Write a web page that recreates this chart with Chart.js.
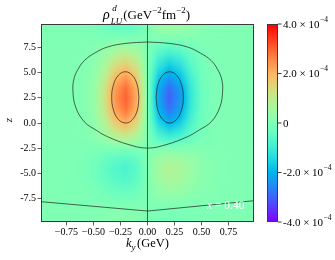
<!DOCTYPE html>
<html>
<head>
<meta charset="utf-8">
<script src="https://cdn.jsdelivr.net/npm/chart.js@4.4.1/dist/chart.umd.min.js"></script>
<style>
  html, body { margin: 0; padding: 0; background: #fff; }
  canvas { display: block; }
</style>
</head>
<body>
<canvas id="chart" width="335" height="260"></canvas>
<script>
// rho_LU^d on a (ky, z) grid, values in units of 1e-4 GeV^-2 fm^-2
const kyGrid = [-1.0, -0.9, -0.8, -0.7, -0.6, -0.5, -0.4, -0.3, -0.2, -0.1, 0.0,
                0.1, 0.2, 0.3, 0.4, 0.5, 0.6, 0.7, 0.8, 0.9, 1.0];
const zGrid = [9.5, 8.5, 7.5, 6.5, 5.5, 4.5, 3.5, 2.5, 1.5, 0.5,
               -0.5, -1.5, -2.5, -3.5, -4.5, -5.5, -6.5, -7.5, -8.5, -9.5];
const rhoGrid = [
  [0, 0, -0.01, -0.02, -0.05, -0.12, -0.26, -0.39, -0.45, -0.32, 0, 0.32, 0.45, 0.39, 0.26, 0.12, 0.05, 0.02, 0.01, 0, 0],
  [0, 0, 0, -0.01, -0.02, -0.03, -0.05, -0.05, -0.05, -0.04, 0, 0.04, 0.05, 0.05, 0.05, 0.03, 0.02, 0.01, 0, 0, 0],
  [0, 0, 0, 0, 0.01, 0.06, 0.21, 0.43, 0.54, 0.39, 0, -0.39, -0.54, -0.43, -0.21, -0.06, -0.01, 0, 0, 0, 0],
  [0, 0, 0, 0, 0.02, 0.13, 0.46, 0.95, 1.19, 0.84, 0, -0.84, -1.19, -0.95, -0.46, -0.13, -0.02, 0, 0, 0, 0],
  [0, 0, 0, 0, 0.04, 0.20, 0.68, 1.42, 1.78, 1.26, 0, -1.26, -1.78, -1.42, -0.68, -0.20, -0.04, 0, 0, 0, 0],
  [0, 0, 0, 0, 0.05, 0.26, 0.91, 1.90, 2.38, 1.68, 0, -1.68, -2.38, -1.90, -0.91, -0.26, -0.05, 0, 0, 0, 0],
  [0, 0, 0, 0, 0.06, 0.32, 1.10, 2.29, 2.87, 2.03, 0, -2.03, -2.87, -2.29, -1.10, -0.32, -0.06, 0, 0, 0, 0],
  [0, 0, 0, 0, 0.06, 0.34, 1.16, 2.41, 3.02, 2.14, 0, -2.14, -3.02, -2.41, -1.16, -0.34, -0.06, 0, 0, 0, 0],
  [0, 0, 0, 0, 0.06, 0.32, 1.10, 2.29, 2.87, 2.03, 0, -2.03, -2.87, -2.29, -1.10, -0.32, -0.06, 0, 0, 0, 0],
  [0, 0, 0, 0, 0.05, 0.26, 0.91, 1.90, 2.38, 1.68, 0, -1.68, -2.38, -1.90, -0.91, -0.26, -0.05, 0, 0, 0, 0],
  [0, 0, 0, 0, 0.03, 0.19, 0.65, 1.34, 1.68, 1.19, 0, -1.19, -1.68, -1.34, -0.65, -0.19, -0.03, 0, 0, 0, 0],
  [0, 0, 0, 0, 0.02, 0.10, 0.34, 0.71, 0.89, 0.63, 0, -0.63, -0.89, -0.71, -0.34, -0.10, -0.02, 0, 0, 0, 0],
  [0, 0, 0, -0.01, -0.02, -0.04, -0.05, -0.02, 0, 0, 0, 0, 0, 0.02, 0.05, 0.04, 0.02, 0.01, 0, 0, 0],
  [0, 0, -0.01, -0.02, -0.06, -0.15, -0.32, -0.47, -0.55, -0.39, 0, 0.39, 0.55, 0.47, 0.32, 0.15, 0.06, 0.02, 0.01, 0, 0],
  [0, 0, -0.01, -0.02, -0.08, -0.20, -0.44, -0.68, -0.80, -0.56, 0, 0.56, 0.80, 0.68, 0.44, 0.20, 0.08, 0.02, 0.01, 0, 0],
  [0, 0, -0.01, -0.02, -0.07, -0.18, -0.39, -0.60, -0.70, -0.49, 0, 0.49, 0.70, 0.60, 0.39, 0.18, 0.07, 0.02, 0.01, 0, 0],
  [0, 0, 0, -0.01, -0.05, -0.11, -0.25, -0.38, -0.45, -0.32, 0, 0.32, 0.45, 0.38, 0.25, 0.11, 0.05, 0.01, 0, 0, 0],
  [0, 0, 0, -0.01, -0.02, -0.05, -0.11, -0.17, -0.20, -0.14, 0, 0.14, 0.20, 0.17, 0.11, 0.05, 0.02, 0.01, 0, 0, 0],
  [0, 0, 0, 0, 0.01, 0.01, 0.03, 0.04, 0.05, 0.04, 0, -0.04, -0.05, -0.04, -0.03, -0.01, -0.01, 0, 0, 0, 0],
  [0, 0, 0, 0, 0.02, 0.04, 0.08, 0.13, 0.15, 0.11, 0, -0.11, -0.15, -0.13, -0.08, -0.04, -0.02, 0, 0, 0, 0]
];

// contour lines [ky, z]
const outerContour = [
  [0, 8.06], [-0.2, 7.92], [-0.37, 7.56], [-0.49, 6.95], [-0.585, 6.2], [-0.645, 5.3], [-0.68, 4.4],
  [-0.69, 3.25], [-0.665, 1.6], [-0.585, 0.13], [-0.47, -0.75], [-0.37, -1.36], [-0.18, -2.13], [0, -2.5],
  [0.18, -2.13], [0.37, -1.36], [0.47, -0.75], [0.59, 0.13], [0.67, 1.6], [0.695, 3.25], [0.685, 4.4],
  [0.65, 5.3], [0.59, 6.2], [0.49, 6.95], [0.37, 7.56], [0.2, 7.92], [0, 8.06]
];
const leftLobeContour = [
  [-0.079, 2.55], [-0.096, 3.83], [-0.142, 4.76], [-0.205, 5.1], [-0.268, 4.76], [-0.314, 3.83], [-0.331, 2.55],
  [-0.314, 1.28], [-0.268, 0.34], [-0.2, 0], [-0.14, 0.34], [-0.094, 1.28], [-0.079, 2.55]
];
const rightLobeContour = [
  [0.079, 2.55], [0.096, 3.83], [0.142, 4.76], [0.205, 5.1], [0.268, 4.76], [0.314, 3.83], [0.331, 2.55],
  [0.314, 1.28], [0.268, 0.34], [0.205, 0], [0.142, 0.34], [0.096, 1.28], [0.079, 2.55]
];
const axisContour = [[0, -9.85], [0, 9.85]];
const lowerContour = [[-0.985, -7.83], [0, -8.76], [0.985, -7.73]];

const xTicks = [-0.75, -0.5, -0.25, 0, 0.25, 0.5, 0.75];
const yTicks = [-7.5, -5, -2.5, 0, 2.5, 5, 7.5];
const cbarTicks = [-4, -2, 0, 2, 4];
const cbMin = -4, cbMax = 4;
const panelLabel = '0.40';

const serif = "'Liberation Serif', 'DejaVu Serif', serif";
const contourColor = 'rgba(30,40,35,0.8)';
const frameColor = '#3a3a3a';

// matplotlib "rainbow" colormap
function rainbow(t) {
  t = Math.min(1, Math.max(0, t));
  const r = Math.min(1, Math.abs(2 * t - 0.5));
  const g = Math.sin(Math.PI * t);
  const b = Math.cos(Math.PI * t / 2);
  return [Math.round(r * 255), Math.round(g * 255), Math.round(b * 255)];
}

function sampleRho(ky, z) {
  let i = 0;
  while (i < kyGrid.length - 2 && ky > kyGrid[i + 1]) i++;
  const fx = Math.min(1, Math.max(0, (ky - kyGrid[i]) / (kyGrid[i + 1] - kyGrid[i])));
  let j = 0;
  while (j < zGrid.length - 2 && z < zGrid[j + 1]) j++;
  const fy = Math.min(1, Math.max(0, (z - zGrid[j]) / (zGrid[j + 1] - zGrid[j])));
  const top = rhoGrid[j][i] * (1 - fx) + rhoGrid[j][i + 1] * fx;
  const bot = rhoGrid[j + 1][i] * (1 - fx) + rhoGrid[j + 1][i + 1] * fx;
  return top * (1 - fy) + bot * fy;
}

function font(size, italic) {
  return (italic ? 'italic ' : '') + size + 'px ' + serif;
}

// Heatmap under the contour lines
const heatmapPlugin = {
  id: 'heatmap',
  beforeDatasetsDraw(chart) {
    const { ctx, chartArea: a, scales: { x, y } } = chart;
    const w = Math.round(a.right - a.left), h = Math.round(a.bottom - a.top);
    const off = document.createElement('canvas');
    off.width = w; off.height = h;
    const octx = off.getContext('2d');
    const img = octx.createImageData(w, h);
    for (let j = 0; j < h; j++) {
      const zv = y.getValueForPixel(a.top + j + 0.5);
      for (let i = 0; i < w; i++) {
        const kv = x.getValueForPixel(a.left + i + 0.5);
        const c = rainbow((sampleRho(kv, zv) - cbMin) / (cbMax - cbMin));
        const k = (j * w + i) * 4;
        img.data[k] = c[0]; img.data[k + 1] = c[1]; img.data[k + 2] = c[2]; img.data[k + 3] = 255;
      }
    }
    octx.putImageData(img, 0, 0);
    ctx.drawImage(off, a.left, a.top);
  }
};

// Frame, colorbar, title, axis labels
const decorPlugin = {
  id: 'decor',
  beforeDraw(chart) {
    const ctx = chart.ctx;
    ctx.save();
    ctx.fillStyle = '#fff';
    ctx.fillRect(0, 0, chart.width, chart.height);
    ctx.restore();
  },
  afterDraw(chart) {
    const { ctx, chartArea: a } = chart;
    const cb = chart.scales.cb;
    ctx.save();

    ctx.strokeStyle = frameColor;
    ctx.lineWidth = 1;
    ctx.strokeRect(a.left + 0.5, a.top + 0.5, a.right - a.left - 1, a.bottom - a.top - 1);

    // colorbar
    const cbL = a.right + 13, cbW = 11;
    for (let py = Math.floor(a.top); py < a.bottom; py++) {
      const c = rainbow((cb.getValueForPixel(py + 0.5) - cbMin) / (cbMax - cbMin));
      ctx.fillStyle = `rgb(${c[0]},${c[1]},${c[2]})`;
      ctx.fillRect(cbL, py, cbW, 1);
    }
    ctx.strokeRect(cbL + 0.5, a.top + 0.5, cbW - 1, a.bottom - a.top - 1);
    ctx.fillStyle = '#000';
    ctx.textBaseline = 'middle';
    ctx.textAlign = 'left';
    cbarTicks.forEach(v => {
      const py = cb.getPixelForValue(v);
      ctx.beginPath();
      ctx.moveTo(cbL + cbW, py);
      ctx.lineTo(cbL + cbW + 3.5, py);
      ctx.stroke();
      const lx = cbL + cbW + 5;
      ctx.font = font(11, false);
      if (v === 0) {
        ctx.fillText('0', lx, py + 1);
        return;
      }
      const main = (v < 0 ? '-' : '') + Math.abs(v).toFixed(1) + ' \u00d7 10';
      ctx.fillText(main, lx, py + 1);
      const mw = ctx.measureText(main).width;
      ctx.font = font(7.5, false);
      ctx.fillText('\u22124', lx + mw + 0.5, py - 4);
    });

    // title
    ctx.textBaseline = 'alphabetic';
    const measure = (t, s, it) => { ctx.font = font(s, it); return ctx.measureText(t).width; };
    const rest = [['(GeV', 13, 0], ['\u22122', 9, -6], ['fm', 13, 0], ['\u22122', 9, -6], [')', 13, 0]];
    const wRho = measure('\u03c1', 14, true);
    const wSub = Math.max(measure('d', 9, true), measure('LU', 9, true));
    const wRest = rest.reduce((s, p) => s + measure(p[0], p[1], false), 0);
    let tx = (a.left + a.right) / 2 - (wRho + wSub + 2 + wRest) / 2 - 1;
    const ty = 19;
    ctx.font = font(14, true);
    ctx.fillText('\u03c1', tx, ty);
    tx += wRho + 1;
    ctx.font = font(9, true);
    ctx.fillText('d', tx + 1.5, ty - 8);
    ctx.fillText('LU', tx, ty + 4.5);
    tx += wSub + 1;
    rest.forEach(([t, s, dy]) => {
      ctx.font = font(s, false);
      ctx.fillText(t, tx, ty + dy);
      tx += ctx.measureText(t).width;
    });

    // x label
    const wk = measure('k', 12.5, true), wy = measure('y', 9, true), wg = measure('(GeV)', 12.5, false);
    let lx = (a.left + a.right) / 2 - (wk + wy + 1.5 + wg) / 2;
    const ly = 247;
    ctx.font = font(12.5, true);
    ctx.fillText('k', lx, ly);
    lx += wk;
    ctx.font = font(9, true);
    ctx.fillText('y', lx, ly + 2.5);
    lx += wy + 1.5;
    ctx.font = font(12.5, false);
    ctx.fillText('(GeV)', lx, ly);

    // y label
    ctx.save();
    ctx.translate(11.5, 120);
    ctx.rotate(-Math.PI / 2);
    ctx.textAlign = 'center';
    ctx.font = font(11, true);
    ctx.fillText('z', 0, 0);
    ctx.restore();

    // panel annotation
    const px = chart.scales.x.getPixelForValue(0.55);
    const py = chart.scales.y.getPixelForValue(-8.6);
    ctx.fillStyle = '#fff';
    ctx.font = font(11.5, true);
    ctx.fillText('x', px, py);
    const wx = ctx.measureText('x').width;
    ctx.font = font(11.5, false);
    ctx.fillText(' = ' + panelLabel, px + wx, py);

    ctx.restore();
  }
};

function contourDataset(points, tension) {
  return {
    data: points.map(([x, y]) => ({ x, y })),
    showLine: true,
    pointRadius: 0,
    borderColor: contourColor,
    borderWidth: 0.9,
    tension: tension,
    fill: false
  };
}

new Chart(document.getElementById('chart'), {
  type: 'scatter',
  data: {
    datasets: [
      contourDataset(outerContour, 0.4),
      contourDataset(leftLobeContour, 0.4),
      contourDataset(rightLobeContour, 0.4),
      contourDataset(axisContour, 0),
      contourDataset(lowerContour, 0)
    ]
  },
  options: {
    responsive: false,
    animation: false,
    events: [],
    layout: { padding: { left: 0, right: 81, top: 24, bottom: 0 } },
    plugins: { legend: { display: false }, tooltip: { enabled: false } },
    scales: {
      x: {
        type: 'linear',
        min: -0.985,
        max: 0.985,
        afterFit: s => { s.height = 38; },
        afterBuildTicks: s => { s.ticks = xTicks.map(v => ({ value: v })); },
        grid: { drawOnChartArea: false, drawTicks: true, tickLength: 3.5, tickColor: frameColor, tickWidth: 0.8 },
        border: { display: false },
        ticks: {
          padding: 0.5,
          color: '#000',
          font: { family: serif, size: 10 },
          maxRotation: 0,
          callback: v => (v < 0 ? '\u2212' : '') + Math.abs(v).toFixed(2)
        }
      },
      y: {
        type: 'linear',
        min: -9.85,
        max: 9.85,
        afterFit: s => { s.width = 41; },
        afterBuildTicks: s => { s.ticks = yTicks.map(v => ({ value: v })); },
        grid: { drawOnChartArea: false, drawTicks: true, tickLength: 3.5, tickColor: frameColor, tickWidth: 0.8 },
        border: { display: false },
        ticks: {
          padding: 1.5,
          color: '#000',
          font: { family: serif, size: 10 },
          callback: v => (v < 0 ? '-' : '') + Math.abs(v).toFixed(1)
        }
      },
      cb: {
        type: 'linear',
        position: 'right',
        display: false,
        min: cbMin,
        max: cbMax
      }
    }
  },
  plugins: [heatmapPlugin, decorPlugin]
});
</script>
</body>
</html>
